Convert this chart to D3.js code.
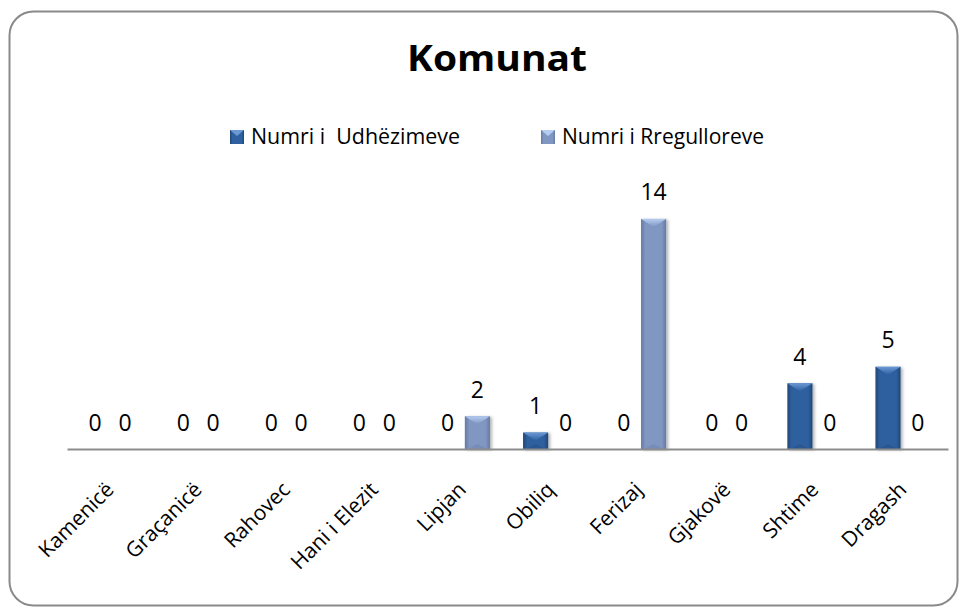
<!DOCTYPE html>
<html><head><meta charset="utf-8">
<script src="https://cdn.jsdelivr.net/npm/d3@7"></script>
<style>
html,body{margin:0;padding:0;background:#fff;}
svg{display:block;font-family:"Open Sans",sans-serif;}
</style></head>
<body>
<svg id="chart" width="967" height="611"></svg>
<script>
const categories = ["Kamenicë","Graçanicë","Rahovec","Hani i Elezit","Lipjan","Obiliq","Ferizaj","Gjakovë","Shtime","Dragash"];
const seriesNames = ["Numri i  Udhëzimeve","Numri i Rregulloreve"];
const udhezime = [0,0,0,0,0,1,0,0,4,5];
const rregullore = [0,0,0,0,2,0,14,0,0,0];
const title = "Komunat";

const seriesValues = [udhezime, rregullore];
const palette = [
  {base:"#2f60a0", edge:"#214776", top:"#6b98d4", bottom:"#26528c"},
  {base:"#8097c2", edge:"#6579a3", top:"#b6cdf2", bottom:"#7389b5"}
];

const svg = d3.select("#chart");
const defs = svg.append("defs");
palette.forEach((p,i)=>{
  const g = defs.append("linearGradient").attr("id","bg"+i).attr("x1","0").attr("x2","1").attr("y1","0").attr("y2","0");
  g.append("stop").attr("offset","0").attr("stop-color",p.edge);
  g.append("stop").attr("offset","0.18").attr("stop-color",p.base);
  g.append("stop").attr("offset","0.82").attr("stop-color",p.base);
  g.append("stop").attr("offset","1").attr("stop-color",p.edge);
  const t = defs.append("linearGradient").attr("id","tg"+i).attr("x1","0").attr("x2","0").attr("y1","0").attr("y2","1");
  t.append("stop").attr("offset","0").attr("stop-color",p.top);
  t.append("stop").attr("offset","1").attr("stop-color",p.base);
});
const filt = defs.append("filter").attr("id","sh").attr("x","-30%").attr("y","-10%").attr("width","160%").attr("height","130%");
filt.append("feDropShadow").attr("dx",2).attr("dy",1).attr("stdDeviation",1.5).attr("flood-color","#000").attr("flood-opacity",0.3);

// frame
svg.append("rect").attr("x",9.5).attr("y",11.5).attr("width",948).attr("height",594)
  .attr("rx",24).attr("fill","#fff").attr("stroke","#8a8a8a").attr("stroke-width",2);

// title
svg.append("text").attr("x",497).attr("y",71).attr("text-anchor","middle")
  .attr("font-weight","bold").attr("font-size",36).attr("fill","#000")
  .attr("textLength",180).attr("lengthAdjust","spacingAndGlyphs").text(title);

// scales
const x = d3.scaleBand().domain(categories).range([67,948]).padding(0);
const sub = d3.scaleBand().domain(d3.range(seriesNames.length)).range([-28.5,26.5]).paddingInner(0.16);
const y = d3.scaleLinear().domain([0,16]).range([449,186]);

// bars
const bw = sub.bandwidth();
seriesValues.forEach((vals,si)=>{
  const g = svg.append("g");
  vals.forEach((v,ci)=>{
    if(v<=0) return;
    const cx = x(categories[ci]) + x.bandwidth()/2 + sub(si);
    const yt = y(v), yb = y(0);
    const h = yb-yt;
    const bg = g.append("g").attr("filter","url(#sh)");
    bg.append("rect").attr("x",cx).attr("y",yt).attr("width",bw).attr("height",h).attr("fill",`url(#bg${si})`);
    const th = Math.min(8, h/2);
    bg.append("path").attr("d",`M${cx},${yt}L${cx+bw},${yt}L${cx+bw/2},${yt+th}Z`).attr("fill",`url(#tg${si})`);
    bg.append("path").attr("d",`M${cx+3},${yb}L${cx+bw-3},${yb}L${cx+bw/2},${yb-Math.min(5,h/3)}Z`).attr("fill",palette[si].bottom).attr("opacity",0.7);
  });
});

// axis
const xAxis = d3.axisBottom(x).tickSize(0).tickFormat("");
const ax = svg.append("g").attr("transform",`translate(0,${y(0)})`).call(xAxis);
ax.select(".domain").attr("stroke","#8c8c8c").attr("stroke-width",2);

// category labels
svg.append("g").selectAll("text").data(categories).join("text")
  .attr("transform",d=>`translate(${x(d)+x.bandwidth()/2+4},${y(0)+42}) rotate(-45)`)
  .attr("text-anchor","end").attr("font-size",21).attr("fill","#000").text(d=>d);

// value labels
seriesValues.forEach((vals,si)=>{
  svg.append("g").selectAll("text").data(vals).join("text")
    .attr("x",(d,i)=>x(categories[i]) + x.bandwidth()/2 + sub(si) + bw/2)
    .attr("y",d=>y(d)-18.5)
    .attr("text-anchor","middle").attr("font-size",23).attr("fill","#000")
    .text(d=>d);
});

// legend
const legX = [230,541];
const legTextX = [251,562];
const legW = [209,202];
seriesNames.forEach((n,i)=>{
  const lg = svg.append("g");
  lg.append("rect").attr("x",legX[i]).attr("y",130).attr("width",14).attr("height",14).attr("fill",`url(#bg${i})`);
  lg.append("path").attr("d",`M${legX[i]},130L${legX[i]+14},130L${legX[i]+7},136Z`).attr("fill",palette[i].top);
  lg.append("text").attr("x",legTextX[i]).attr("y",144).attr("font-size",22).attr("fill","#000")
    .attr("textLength",legW[i]).attr("lengthAdjust","spacingAndGlyphs").attr("xml:space","preserve").style("white-space","pre").text(n);
});
</script>
</body></html>
